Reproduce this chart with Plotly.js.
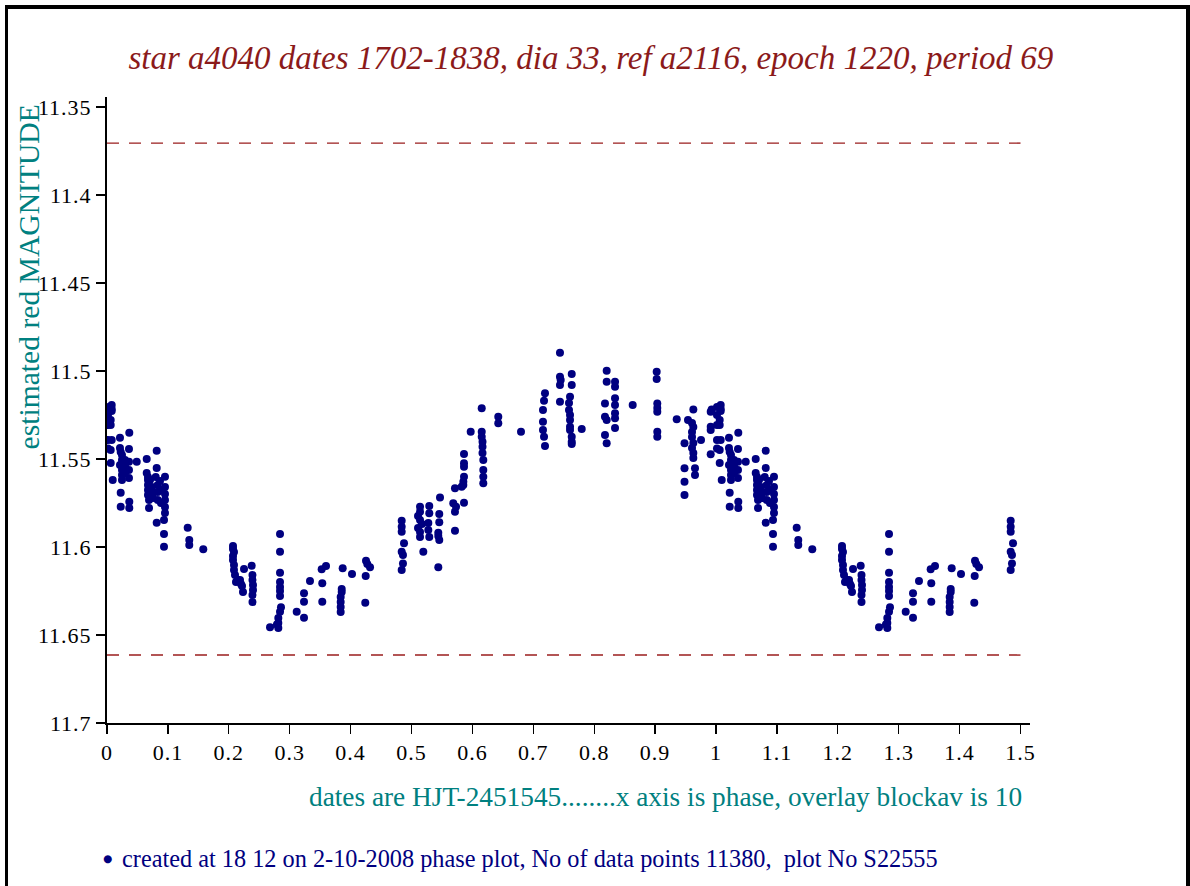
<!DOCTYPE html>
<html>
<head>
<meta charset="utf-8">
<script src="https://cdn.plot.ly/plotly-3.0.1.min.js"></script>
<style>
  html, body { margin: 0; padding: 0; background: #ffffff; }
  #wrap { position: relative; width: 1190px; height: 886px; overflow: hidden; }
  #chart { width: 1190px; height: 886px; }
  #frame { position: absolute; left: 5px; top: 5px; width: 1185px; height: 900px;
           box-sizing: border-box; border-left: 3.5px solid #000; border-top: 4px solid #000;
           border-right: 4px solid #000; pointer-events: none; }
  #chart .xtick text, #chart .ytick text { letter-spacing: 1px; }
</style>
</head>
<body>
<div id="wrap"><div id="chart"></div><div id="frame"></div></div>
<script>
// Phase (0..1) and estimated red magnitude
const phase = [
  0.0016, 0.0016, 0.0016, 0.0016, 0.0016,
  0.0077, 0.0077, 0.0077, 0.0061, 0.0061, 0.0077, 0.0061, 0.0061, 0.0094,
  0.0213, 0.0213, 0.0225, 0.0246, 0.0246, 0.0213, 0.0246, 0.0246, 0.0246, 0.0225, 0.0225,
  0.0296, 0.0296, 0.0296,
  0.0366, 0.0361, 0.0361, 0.0361, 0.0361, 0.0366, 0.0366,
  0.0488,
  0.0652, 0.0652, 0.0673, 0.0673, 0.0673, 0.0673, 0.0673, 0.0690, 0.0690,
  0.0706, 0.0739, 0.0755, 0.0755,
  0.0816, 0.0816, 0.0800, 0.0833, 0.0833, 0.0833, 0.0816,
  0.0870, 0.0870, 0.0886,
  0.0952, 0.0952, 0.0952, 0.0952, 0.0952, 0.0952, 0.0936, 0.0936, 0.0936,
  0.1325, 0.1351, 0.1351, 0.1581,
  0.2069, 0.2069, 0.2085, 0.2069, 0.2069, 0.2085, 0.2085, 0.2102, 0.2118, 0.2151,
  0.2250, 0.2184, 0.2217, 0.2233, 0.2200,
  0.2376, 0.2389, 0.2389, 0.2397, 0.2397, 0.2389, 0.2389,
  0.2841, 0.2841, 0.2841, 0.2841, 0.2841, 0.2841, 0.2841, 0.2857, 0.2841, 0.2813, 0.2813, 0.2813, 0.2677, 0.2790,
  0.3115, 0.3235, 0.3235, 0.3235, 0.3333, 0.3525, 0.3596, 0.3535, 0.3535,
  0.3870, 0.4023, 0.3854, 0.3854, 0.3837, 0.3837, 0.3837, 0.3837,
  0.4253, 0.4274, 0.4319, 0.4248, 0.4241,
  0.4839, 0.4839, 0.4839, 0.4877, 0.4839, 0.4860, 0.4860, 0.4839,
  0.5140, 0.5140, 0.5107, 0.5140, 0.5172, 0.5107, 0.5140, 0.5140,
  0.5194,
  0.5292, 0.5292, 0.5276, 0.5276, 0.5292,
  0.5468, 0.5456, 0.5456, 0.5440, 0.5440, 0.5456, 0.5440,
  0.5714, 0.5686, 0.5731, 0.5714, 0.5714,
  0.5862, 0.5862, 0.5862, 0.5862, 0.5851, 0.5851, 0.5824, 0.5862,
  0.5972,
  0.6153, 0.6153, 0.6153, 0.6166, 0.6166, 0.6166, 0.6179, 0.6179, 0.6179, 0.6179,
  0.6425, 0.6425,
  0.6798,
  0.7192, 0.7176, 0.7159, 0.7159, 0.7159, 0.7176, 0.7192,
  0.7438, 0.7438, 0.7450, 0.7438, 0.7438,
  0.7631, 0.7631,
  0.7603, 0.7586, 0.7586, 0.7603, 0.7603, 0.7603, 0.7603, 0.7631, 0.7631, 0.7631,
  0.7795,
  0.8205, 0.8205, 0.8177, 0.8177, 0.8205, 0.8177, 0.8205,
  0.8342, 0.8342, 0.8342, 0.8342, 0.8342, 0.8342, 0.8342,
  0.8632,
  0.9026, 0.9026, 0.9036, 0.9036, 0.9036, 0.9036, 0.9036,
  0.9355,
  0.9628, 0.9540, 0.9606, 0.9628, 0.9606, 0.9606, 0.9628, 0.9606, 0.9628, 0.9628,
  0.9483, 0.9483, 0.9483, 0.9483,
  0.9655, 0.9655,
  0.9754,
  0.9929, 0.9913, 0.9913, 0.9913, 0.9913
];
const magnitude = [
  11.5205, 11.5250, 11.5307, 11.5392, 11.5440,
  11.5193, 11.5216, 11.5227, 11.5278, 11.5307, 11.5392, 11.5449, 11.5523, 11.5619,
  11.5379, 11.5438, 11.5460, 11.5477, 11.5506, 11.5534, 11.5563, 11.5591, 11.5619, 11.5691, 11.5771,
  11.5506, 11.5540, 11.5580,
  11.5351, 11.5443, 11.5515, 11.5563, 11.5608, 11.5743, 11.5778,
  11.5515,
  11.5500, 11.5580, 11.5602, 11.5619, 11.5648, 11.5676, 11.5705, 11.5733, 11.5778,
  11.5619, 11.5659, 11.5693, 11.5722,
  11.5453, 11.5551, 11.5602, 11.5648, 11.5688, 11.5733, 11.5862,
  11.5625, 11.5676, 11.5750,
  11.5601, 11.5659, 11.5699, 11.5733, 11.5773, 11.5807, 11.5847, 11.5926, 11.5998,
  11.5890, 11.5960, 11.5989, 11.6013,
  11.5994, 11.6011, 11.6028, 11.6051, 11.6074, 11.6102, 11.6130, 11.6159, 11.6199, 11.6188,
  11.6125, 11.6188, 11.6222, 11.6256, 11.6210,
  11.6106, 11.6159, 11.6188, 11.6216, 11.6244, 11.6273, 11.6313,
  11.5926, 11.6027, 11.6146, 11.6199, 11.6227, 11.6250, 11.6278, 11.6343, 11.6368, 11.6403, 11.6432, 11.6460, 11.6456, 11.6440,
  11.6368, 11.6263, 11.6311, 11.6402, 11.6193, 11.6126, 11.6108, 11.6206, 11.6311,
  11.6121, 11.6153, 11.6239, 11.6256, 11.6284, 11.6313, 11.6341, 11.6369,
  11.6078, 11.6097, 11.6115, 11.6165, 11.6317,
  11.5851, 11.5885, 11.5913, 11.5979, 11.6027, 11.6045, 11.6093, 11.6130,
  11.5771, 11.5799, 11.5824, 11.5847, 11.5869, 11.5892, 11.5915, 11.5943,
  11.6027,
  11.5767, 11.5808, 11.5864, 11.5903, 11.5943,
  11.5718, 11.5812, 11.5860, 11.5919, 11.5938, 11.5960, 11.6115,
  11.5666, 11.5752, 11.5771, 11.5799, 11.5907,
  11.5472, 11.5524, 11.5544, 11.5601, 11.5629, 11.5648, 11.5657, 11.5748,
  11.5345,
  11.5212, 11.5345, 11.5373, 11.5402, 11.5430, 11.5466, 11.5506, 11.5563, 11.5601, 11.5638,
  11.5260, 11.5297,
  11.5345,
  11.5127, 11.5169, 11.5222, 11.5288, 11.5335, 11.5373, 11.5426,
  11.4896, 11.5032, 11.5051, 11.5080, 11.5174,
  11.5017, 11.5080,
  11.5146, 11.5182, 11.5222, 11.5250, 11.5278, 11.5316, 11.5335, 11.5373, 11.5402, 11.5415,
  11.5330,
  11.4998, 11.5061, 11.5184, 11.5260, 11.5278, 11.5364, 11.5411,
  11.5061, 11.5089, 11.5155, 11.5193, 11.5240, 11.5269, 11.5324,
  11.5193,
  11.5004, 11.5045, 11.5184, 11.5210, 11.5231, 11.5345, 11.5373,
  11.5274,
  11.5218, 11.5278, 11.5295, 11.5318, 11.5347, 11.5375, 11.5409, 11.5438, 11.5466, 11.5494,
  11.5411, 11.5553, 11.5629, 11.5705,
  11.5553, 11.5591,
  11.5392,
  11.5218, 11.5231, 11.5316, 11.5335, 11.5473
];
// Reference (dashed) magnitude levels
const refLevels = [11.3705, 11.6614];
// Tick values / labels
const xTickVals = [0, 0.1, 0.2, 0.3, 0.4, 0.5, 0.6, 0.7, 0.8, 0.9, 1, 1.1, 1.2, 1.3, 1.4, 1.5];
const xTickText = ["0","0.1","0.2","0.3","0.4","0.5","0.6","0.7","0.8","0.9","1","1.1","1.2","1.3","1.4","1.5"];
const yTickVals = [11.35, 11.4, 11.45, 11.5, 11.55, 11.6, 11.65, 11.7];
const yTickText = ["11.35","11.4","11.45","11.5","11.55","11.6","11.65","11.7"];
const phaseMax = 1.5;

const titleText = "star a4040 dates 1702-1838, dia 33, ref a2116, epoch 1220, period 69";
const yTitleText = "estimated red MAGNITUDE";
const xTitleText = "dates are HJT-2451545........x axis is phase, overlay blockav is 10";
const captionText = "created at 18 12 on 2-10-2008 phase plot, No of data points 11380,&nbsp; plot No S22555";

// phase plot: points with phase < 0.5 are repeated at phase + 1
const xs = [], ys = [];
for (let i = 0; i < phase.length; i++) {
  xs.push(phase[i]); ys.push(magnitude[i]);
}
for (let i = 0; i < phase.length; i++) {
  if (phase[i] + 1 <= phaseMax) { xs.push(phase[i] + 1); ys.push(magnitude[i]); }
}

const SERIF = "Liberation Serif, Times New Roman, serif";
const NAVY = "#000080";

const traces = [{
  type: "scatter", mode: "markers", x: xs, y: ys, name: "magnitude",
  marker: { color: NAVY, size: 8 },
  showlegend: false, hoverinfo: "x+y"
}];

const shapes = refLevels.map(v => ({
  type: "line", xref: "x", yref: "y", x0: 0, x1: phaseMax, y0: v, y1: v,
  line: { color: "#9A1E1E", width: 1.4, dash: "12px,10px" }
}));

const layout = {
  width: 1190, height: 886,
  margin: { l: 107, r: 160, t: 97, b: 163 },
  paper_bgcolor: "#ffffff", plot_bgcolor: "#ffffff",
  font: { family: SERIF, color: "#000000", size: 21 },
  showlegend: false,
  title: {
    text: titleText, xref: "container", yref: "container",
    x: 0.4966, xanchor: "center", y: 0.9357, yanchor: "middle",
    font: { family: SERIF, size: 33, color: "#8B1A1A", style: "italic" }
  },
  xaxis: {
    range: [0, 1.5156], tickmode: "array", tickvals: xTickVals, ticktext: xTickText,
    showgrid: false, zeroline: false, showline: true, linecolor: "#000", linewidth: 2,
    ticks: "outside", ticklen: 9, tickwidth: 1.3, tickcolor: "#000",
    ticklabelstandoff: 0,
    tickfont: { family: SERIF, size: 22, color: "#000" }
  },
  yaxis: {
    range: [11.7, 11.3443], tickmode: "array", tickvals: yTickVals, ticktext: yTickText,
    showgrid: false, zeroline: false, showline: true, linecolor: "#000", linewidth: 2,
    ticks: "outside", ticklen: 9, tickwidth: 1.3, tickcolor: "#000",
    tickfont: { family: SERIF, size: 22, color: "#000" }
  },
  shapes: shapes,
  annotations: [
    { text: yTitleText, xref: "paper", yref: "paper", x: -0.0835, y: 0.7133,
      xanchor: "center", yanchor: "middle", textangle: -90, showarrow: false,
      font: { family: SERIF, size: 29.6, color: "#008080" } },
    { text: xTitleText, xref: "paper", yref: "paper", x: 0.9935, y: -0.1182,
      xanchor: "right", yanchor: "middle", showarrow: false,
      font: { family: SERIF, size: 27.3, color: "#008080" } },
    { text: "●", xref: "paper", yref: "paper", x: 0, y: -0.2157,
      xanchor: "center", yanchor: "middle", showarrow: false,
      font: { family: "DejaVu Sans", size: 10.5, color: NAVY } },
    { text: captionText, xref: "paper", yref: "paper", x: 0.0141, y: -0.2157,
      xanchor: "left", yanchor: "middle", showarrow: false,
      font: { family: SERIF, size: 24.3, color: NAVY } }
  ]
};

Plotly.newPlot("chart", traces, layout, { displayModeBar: false, staticPlot: true });
</script>
</body>
</html>
